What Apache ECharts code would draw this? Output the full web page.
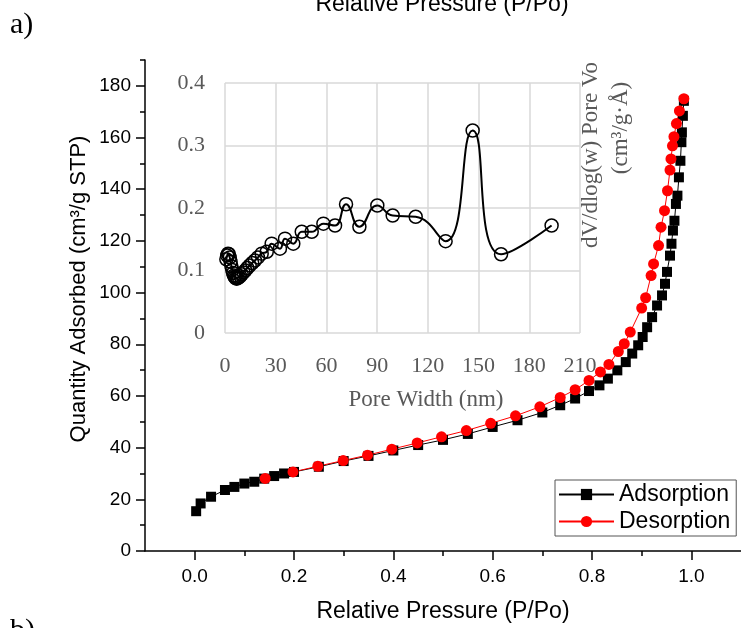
<!DOCTYPE html>
<html>
<head>
<meta charset="UTF-8">
<title>Isotherm</title>
<script src="https://cdn.jsdelivr.net/npm/echarts@6/dist/echarts.min.js"></script>
<style>
  html, body { margin: 0; padding: 0; background: #fff; }
  #chart { width: 741px; height: 628px; }
</style>
</head>
<body>
<div id="chart"></div>
<script>
// main isotherm, adsorption branch
var adsP = [0.003, 0.012, 0.033, 0.061, 0.080, 0.100, 0.120, 0.140, 0.160, 0.180,
            0.200, 0.250, 0.300, 0.350, 0.400, 0.450, 0.500, 0.550, 0.600, 0.650,
            0.700, 0.736, 0.766, 0.794, 0.815, 0.832, 0.851, 0.868, 0.881, 0.893,
            0.902, 0.911, 0.921, 0.931, 0.941, 0.947, 0.951, 0.957, 0.960, 0.963,
            0.966, 0.969, 0.972, 0.975, 0.978, 0.980, 0.981, 0.983, 0.985];
var adsQ = [15.4, 18.4, 21.0, 23.6, 24.8, 26.1, 26.8, 28.0, 29.0, 30.0,
            30.6, 32.6, 34.8, 36.8, 38.9, 41.0, 43.0, 45.3, 48.0, 50.6,
            53.6, 56.4, 59.0, 61.9, 64.1, 66.7, 69.9, 73.1, 76.4, 79.6,
            82.8, 86.6, 90.5, 95.0, 98.9, 103.4, 108.0, 114.3, 118.9, 124.0,
            127.8, 134.3, 137.5, 144.6, 151.0, 158.2, 162.0, 168.4, 174.2];

// desorption branch
var desP = [0.985, 0.976, 0.970, 0.965, 0.962, 0.959, 0.957, 0.952, 0.946, 0.939,
            0.934, 0.924, 0.919, 0.908, 0.900, 0.877, 0.865, 0.853, 0.834, 0.817,
            0.794, 0.766, 0.736, 0.695, 0.646, 0.596, 0.547, 0.497, 0.448, 0.397,
            0.348, 0.299, 0.248, 0.198, 0.142];
var desQ = [175.0, 170.3, 165.4, 160.3, 156.8, 151.7, 147.4, 139.4, 131.7, 125.3,
            118.2, 111.1, 106.6, 98.0, 94.0, 84.7, 80.2, 77.2, 72.2, 69.3,
            66.0, 62.4, 59.4, 55.8, 52.3, 49.4, 46.6, 44.2, 41.8, 39.4,
            37.1, 35.0, 32.8, 30.6, 28.1];

// inset: pore size distribution
var poreWidth = [0.8, 1.3, 1.8, 2.3, 2.8, 3.3, 3.8, 4.3, 4.8, 5.3,
                 5.8, 6.3, 6.9, 7.5, 8.2, 9.0, 9.9, 10.9, 12.0, 13.2,
                 14.6, 16.1, 17.7, 19.5, 21.7, 24.7, 27.6, 32.5, 35.5, 40.4,
                 45.4, 51.3, 58.2, 65.1, 71.6, 79.5, 90.1, 99.2, 112.8, 130.5,
                 146.5, 163.3, 193.2];
var poreVol = [0.118, 0.124, 0.127, 0.126, 0.121, 0.114, 0.107, 0.101, 0.096, 0.092,
               0.090, 0.088, 0.087, 0.088, 0.089, 0.091, 0.094, 0.097, 0.100, 0.104,
               0.108, 0.112, 0.116, 0.121, 0.127, 0.130, 0.143, 0.135, 0.151, 0.143,
               0.162, 0.162, 0.175, 0.172, 0.206, 0.170, 0.204, 0.188, 0.186, 0.147,
               0.324, 0.126, 0.172];

// tick labels
var pressureTicks = [0.0, 0.2, 0.4, 0.6, 0.8, 1.0];
var pressureMinor = [0.1, 0.3, 0.5, 0.7, 0.9];
var quantityTicks = [0, 20, 40, 60, 80, 100, 120, 140, 160, 180];
var quantityMinor = [10, 30, 50, 70, 90, 110, 130, 150, 170, 190];

function pairs(xs, ys) {
    var out = [];
    for (let i = 0; i < xs.length; i++) {
        out.push([xs[i], ys[i]]);
    }
    return out;
}

var sans = 'Arial, "Liberation Sans", sans-serif';
var serif = '"Times New Roman", "Liberation Serif", serif';
var insetGray = '#595959';
var gridGray = '#d9d9d9';

var chart = echarts.init(document.getElementById('chart'));

var option = {
    animation: false,
    backgroundColor: '#fff',
    grid: [
        {left: 145, top: 60, width: 606, height: 491},
        {left: 225, top: 83, width: 355, height: 250}
    ],
    legend: {
        data: ['Adsorption', 'Desorption'],
        orient: 'vertical',
        left: 555,
        top: 480,
        padding: [3, 6, 3, 3],
        itemWidth: 55,
        itemHeight: 14,
        itemGap: 4,
        borderColor: '#555',
        borderWidth: 1,
        textStyle: {fontFamily: sans, fontSize: 23, color: '#000'}
    },
    xAxis: [
        {
            gridIndex: 0, type: 'value', min: -0.1, max: 1.1,
            name: 'Relative Pressure (P/Po)',
            nameLocation: 'middle', nameGap: 49,
            nameTextStyle: {fontFamily: sans, fontSize: 23, color: '#000'},
            axisLine: {onZero: false, lineStyle: {color: '#000', width: 1.5}},
            axisTick: {customValues: pressureTicks, length: 9, lineStyle: {color: '#000', width: 1.5}},
            axisLabel: {
                customValues: pressureTicks, margin: 16,
                fontFamily: sans, fontSize: 19, color: '#000',
                formatter: function (v) { return v.toFixed(1); }
            },
            splitLine: {show: false}
        },
        {
            gridIndex: 0, type: 'value', min: -0.1, max: 1.1, position: 'bottom',
            axisLine: {show: false, onZero: false},
            axisTick: {customValues: pressureMinor, length: 5, lineStyle: {color: '#000', width: 1.5}},
            axisLabel: {show: false},
            splitLine: {show: false}
        },
        {
            gridIndex: 1, type: 'value', min: 0, max: 210, interval: 30,
            axisLine: {show: false},
            axisTick: {show: false},
            axisLabel: {margin: 22, fontFamily: serif, fontSize: 22, color: insetGray},
            splitLine: {show: true, lineStyle: {color: gridGray, width: 1.5}}
        }
    ],
    yAxis: [
        {
            gridIndex: 0, type: 'value', min: 0, max: 190,
            axisLine: {show: true, onZero: false, lineStyle: {color: '#000', width: 1.5}},
            axisTick: {show: true, customValues: quantityTicks, length: 9, lineStyle: {color: '#000', width: 1.5}},
            axisLabel: {customValues: quantityTicks, margin: 14, fontFamily: sans, fontSize: 19, color: '#000'},
            splitLine: {show: false}
        },
        {
            gridIndex: 0, type: 'value', min: 0, max: 190, position: 'left',
            axisLine: {show: false, onZero: false},
            axisTick: {show: true, customValues: quantityMinor, length: 5, lineStyle: {color: '#000', width: 1.5}},
            axisLabel: {show: false},
            splitLine: {show: false}
        },
        {
            gridIndex: 1, type: 'value', min: 0, max: 0.4, interval: 0.1,
            axisLine: {show: false, onZero: false},
            axisTick: {show: false},
            axisLabel: {margin: 20, fontFamily: serif, fontSize: 22, color: insetGray},
            splitLine: {show: true, lineStyle: {color: gridGray, width: 1.5}}
        }
    ],
    series: [
        {
            name: 'Adsorption',
            type: 'line',
            xAxisIndex: 0, yAxisIndex: 0,
            data: pairs(adsP, adsQ),
            symbol: 'rect',
            symbolSize: 10,
            itemStyle: {color: '#000'},
            lineStyle: {color: '#000', width: 1}
        },
        {
            name: 'Desorption',
            type: 'line',
            xAxisIndex: 0, yAxisIndex: 0,
            data: pairs(desP, desQ),
            symbol: 'circle',
            symbolSize: 11,
            itemStyle: {color: '#ff0000'},
            lineStyle: {color: '#ff0000', width: 1}
        },
        {
            name: 'PSD',
            type: 'line',
            xAxisIndex: 2, yAxisIndex: 2,
            data: pairs(poreWidth, poreVol),
            smooth: 0.5,
            symbol: 'circle',
            symbolSize: 13,
            itemStyle: {color: 'rgba(0,0,0,0)', borderColor: '#000', borderWidth: 1.5},
            lineStyle: {color: '#000', width: 2}
        }
    ],
    graphic: [
        {type: 'text', left: 10, top: 10,
            style: {text: 'a)', font: '30px ' + serif, fill: '#000'}},
        {type: 'text', left: 10, top: 616,
            style: {text: 'b)', font: '30px ' + serif, fill: '#000'}},
        {type: 'text', x: 442, y: 5,
            style: {text: 'Relative Pressure (P/Po)', font: '23px ' + sans, fill: '#000',
                align: 'center', verticalAlign: 'middle'}},
        {type: 'text', x: 79, y: 289, rotation: Math.PI / 2,
            style: {text: 'Quantity Adsorbed (cm³/g STP)', font: '22px ' + sans, fill: '#000',
                align: 'center', verticalAlign: 'middle'}},
        {type: 'text', x: 426, y: 400,
            style: {text: 'Pore Width (nm)', font: '23px ' + serif, fill: insetGray,
                align: 'center', verticalAlign: 'middle'}},
        {type: 'text', x: 591, y: 155, rotation: Math.PI / 2,
            style: {text: 'dV/dlog(w) Pore Vo', font: '23px ' + serif, fill: insetGray,
                align: 'center', verticalAlign: 'middle'}},
        {type: 'text', x: 621, y: 128, rotation: Math.PI / 2,
            style: {text: '(cm³/g·Å)', font: '23px ' + serif, fill: insetGray,
                align: 'center', verticalAlign: 'middle'}}
    ]
};

chart.setOption(option);
</script>
</body>
</html>
